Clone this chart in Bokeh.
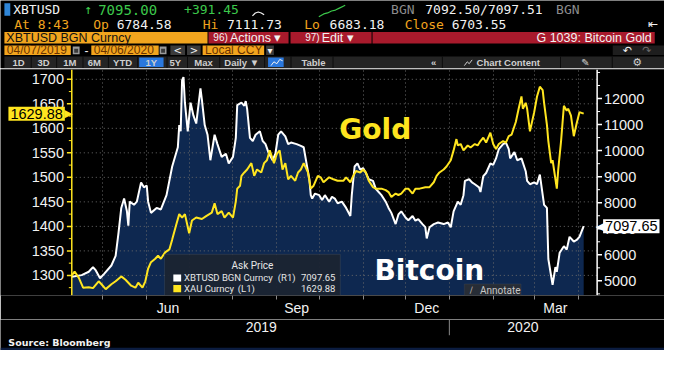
import pandas as pd
from bokeh.plotting import figure
from bokeh.models import (Range1d, LinearAxis, FixedTicker, Grid, Label, BoxAnnotation,
                          DatetimeTickFormatter, ColumnDataSource)
from bokeh.layouts import column
from bokeh.core.properties import value
from bokeh.embed import file_html
from bokeh.resources import INLINE

# ---------------------------------------------------------------- data
btc_dates = [
    "2019-04-09", "2019-04-16", "2019-04-21", "2019-04-24", "2019-04-26", "2019-04-29",
    "2019-05-02", "2019-05-07", "2019-05-10", "2019-05-12", "2019-05-14", "2019-05-16", "2019-05-18", "2019-05-19", "2019-05-20", "2019-05-23", "2019-05-25", "2019-05-28", "2019-05-30",
    "2019-06-01", "2019-06-02", "2019-06-04", "2019-06-08", "2019-06-11", "2019-06-15", "2019-06-19", "2019-06-23", "2019-06-24", "2019-06-25", "2019-06-26", "2019-06-27", "2019-06-28", "2019-06-30",
    "2019-07-02", "2019-07-04", "2019-07-06", "2019-07-09", "2019-07-10", "2019-07-12", "2019-07-14", "2019-07-16", "2019-07-19", "2019-07-21", "2019-07-24", "2019-07-27", "2019-07-29",
    "2019-08-01", "2019-08-03", "2019-08-04", "2019-08-07", "2019-08-09", "2019-08-10", "2019-08-11", "2019-08-13", "2019-08-15", "2019-08-17", "2019-08-20", "2019-08-22", "2019-08-24", "2019-08-26", "2019-08-29", "2019-08-31",
    "2019-09-02", "2019-09-04", "2019-09-07", "2019-09-09", "2019-09-11", "2019-09-15", "2019-09-18", "2019-09-20", "2019-09-22", "2019-09-24", "2019-09-25", "2019-09-26", "2019-09-28",
    "2019-10-01", "2019-10-03", "2019-10-05", "2019-10-08", "2019-10-10", "2019-10-12", "2019-10-14", "2019-10-17", "2019-10-20", "2019-10-23", "2019-10-24", "2019-10-26", "2019-10-28", "2019-10-30",
    "2019-11-01", "2019-11-03", "2019-11-05", "2019-11-08", "2019-11-10", "2019-11-12", "2019-11-14", "2019-11-17", "2019-11-19", "2019-11-21", "2019-11-24", "2019-11-26", "2019-11-28",
    "2019-12-01", "2019-12-03", "2019-12-06", "2019-12-08", "2019-12-10", "2019-12-13", "2019-12-15", "2019-12-16", "2019-12-18", "2019-12-21", "2019-12-24", "2019-12-28", "2019-12-31",
    "2020-01-02", "2020-01-04", "2020-01-07", "2020-01-09", "2020-01-11", "2020-01-12", "2020-01-15", "2020-01-17", "2020-01-19", "2020-01-22", "2020-01-23", "2020-01-25", "2020-01-27", "2020-01-30",
    "2020-02-01", "2020-02-03", "2020-02-05", "2020-02-08", "2020-02-10", "2020-02-12", "2020-02-13", "2020-02-16", "2020-02-18", "2020-02-21", "2020-02-24", "2020-02-25", "2020-02-27",
    "2020-03-01", "2020-03-03", "2020-03-05", "2020-03-08", "2020-03-10", "2020-03-11", "2020-03-14", "2020-03-16", "2020-03-17", "2020-03-19", "2020-03-22", "2020-03-24", "2020-03-26", "2020-03-29", "2020-03-31",
    "2020-04-02", "2020-04-05",
]
btc_prices = [
    5160, 5220, 5350, 5530, 5400, 5100,
    5280, 5590, 5960, 6820, 7800, 8160, 7670, 7120, 8040, 7920, 8040, 8780, 8590,
    8660, 8040, 7610, 7800, 7740, 8290, 9390, 10130, 10980, 10740, 12700, 12820, 11840, 10740,
    11840, 11350, 11040, 12390, 11960, 10980, 10610, 9630, 10610, 10250, 9760, 9880, 9510,
    9760, 10490, 11750, 11840, 11720, 11900, 11600, 10490, 10370, 10610, 10740, 10370, 10250, 9940, 9630, 9880,
    10610, 10740, 10550, 10250, 10310, 10250, 10180, 10130, 9510, 8900, 8290, 8160, 8350,
    8290, 8100, 8290, 8040, 8230, 8160, 7980, 8040, 7800, 7490, 8290, 9390, 9510, 9270,
    9330, 9140, 8900, 8840, 8530, 8410, 8290, 8040, 7800, 7610, 7180, 7550, 7670,
    7430, 7330, 7490, 7310, 7370, 7180, 7060, 6630, 7060, 7180, 7240, 7180, 7240,
    7060, 7670, 8040, 7920, 8290, 8840, 8900, 8780, 8710, 8590, 8410, 9020, 9140, 9510,
    9450, 9700, 10060, 10250, 10310, 10060, 9700, 9940, 9630, 9700, 9210, 8840, 8710,
    8780, 8710, 9080, 7920, 7800, 5840, 4850, 5530, 5350, 6080, 6330, 6200, 6690, 6510, 6570,
    6690, 7097.65,
]
gold_dates = [
    "2019-04-09", "2019-04-11", "2019-04-14", "2019-04-17", "2019-04-21", "2019-04-24", "2019-04-28", "2019-04-30",
    "2019-05-03", "2019-05-07", "2019-05-10", "2019-05-14", "2019-05-17", "2019-05-21", "2019-05-24", "2019-05-26", "2019-05-29", "2019-05-31",
    "2019-06-02", "2019-06-04", "2019-06-07", "2019-06-09", "2019-06-11", "2019-06-14", "2019-06-17", "2019-06-19", "2019-06-22", "2019-06-24", "2019-06-26", "2019-06-28",
    "2019-07-01", "2019-07-03", "2019-07-06", "2019-07-10", "2019-07-13", "2019-07-17", "2019-07-19", "2019-07-21", "2019-07-24", "2019-07-26", "2019-07-29",
    "2019-08-01", "2019-08-03", "2019-08-04", "2019-08-06", "2019-08-07", "2019-08-09", "2019-08-11", "2019-08-14", "2019-08-16", "2019-08-18", "2019-08-21", "2019-08-23", "2019-08-25", "2019-08-27", "2019-08-30",
    "2019-09-01", "2019-09-03", "2019-09-05", "2019-09-07", "2019-09-09", "2019-09-11", "2019-09-14", "2019-09-16", "2019-09-18", "2019-09-20", "2019-09-23", "2019-09-25", "2019-09-27", "2019-09-30",
    "2019-10-02", "2019-10-04", "2019-10-08", "2019-10-11", "2019-10-14", "2019-10-18", "2019-10-20", "2019-10-23", "2019-10-25", "2019-10-27", "2019-10-30",
    "2019-11-01", "2019-11-03", "2019-11-05", "2019-11-08", "2019-11-10", "2019-11-12", "2019-11-14", "2019-11-17", "2019-11-19", "2019-11-21", "2019-11-24", "2019-11-26", "2019-11-28",
    "2019-12-01", "2019-12-03", "2019-12-06", "2019-12-08", "2019-12-11", "2019-12-15", "2019-12-18", "2019-12-21", "2019-12-23", "2019-12-25", "2019-12-28", "2019-12-30",
    "2020-01-02", "2020-01-04", "2020-01-06", "2020-01-07", "2020-01-09", "2020-01-11", "2020-01-14", "2020-01-16", "2020-01-19", "2020-01-21", "2020-01-23", "2020-01-25", "2020-01-27", "2020-01-30",
    "2020-02-01", "2020-02-03", "2020-02-05", "2020-02-08", "2020-02-10", "2020-02-12", "2020-02-14", "2020-02-17", "2020-02-19", "2020-02-21", "2020-02-22", "2020-02-24", "2020-02-25", "2020-02-27",
    "2020-03-01", "2020-03-03", "2020-03-05", "2020-03-07", "2020-03-08", "2020-03-10", "2020-03-11", "2020-03-13", "2020-03-14", "2020-03-15", "2020-03-17", "2020-03-18", "2020-03-20", "2020-03-22", "2020-03-24", "2020-03-25", "2020-03-27", "2020-03-29", "2020-03-31",
    "2020-04-02", "2020-04-05",
]
gold_prices = [
    1300, 1308, 1295, 1275, 1276, 1274, 1288, 1282,
    1272, 1282, 1288, 1298, 1291, 1279, 1275, 1285, 1275, 1288,
    1314, 1327, 1334, 1340, 1334, 1347, 1353, 1373, 1405, 1425, 1418, 1425,
    1386, 1412, 1418, 1415, 1421, 1428, 1447, 1425, 1431, 1418, 1428,
    1418, 1451, 1477, 1483, 1503, 1510, 1516, 1529, 1503, 1516, 1510, 1529, 1535, 1555, 1529,
    1548, 1555, 1516, 1529, 1496, 1503, 1493, 1510, 1516, 1529, 1510, 1477, 1483, 1503,
    1500, 1490, 1500, 1496, 1493, 1493, 1500, 1490, 1503, 1513, 1510,
    1516, 1510, 1493, 1480, 1477, 1477, 1477, 1474, 1470, 1460, 1467, 1464, 1467,
    1477, 1477, 1467, 1477, 1477, 1480, 1480, 1490, 1503, 1510, 1516, 1522,
    1535, 1555, 1578, 1565, 1568, 1555, 1565, 1561, 1568, 1565, 1574, 1581, 1571, 1591,
    1568, 1558, 1568, 1574, 1571, 1584, 1587, 1613, 1640, 1665, 1640, 1652, 1640, 1594,
    1633, 1665, 1685, 1678, 1652, 1607, 1574, 1529, 1535, 1516, 1477, 1516, 1574, 1646, 1636, 1640, 1626, 1584, 1610,
    1633, 1629.88,
]
btc_last = 7097.65
gold_last = 1629.88
gold_ticks = [1300, 1350, 1400, 1450, 1500, 1550, 1600, 1650, 1700]
gold_minor_ticks = [1275, 1325, 1375, 1425, 1475, 1525, 1575, 1625, 1675]
btc_ticks = [5000, 6000, 7000, 8000, 9000, 10000, 11000, 12000]
btc_minor_ticks = [4500, 5500, 6500, 7500, 8500, 9500, 10500, 11500, 12500, 13000]
month_starts = ["2019-05-01", "2019-06-01", "2019-07-01", "2019-08-01", "2019-09-01", "2019-10-01",
                "2019-11-01", "2019-12-01", "2020-01-01", "2020-02-01", "2020-03-01", "2020-04-01"]
month_label_dates = ["2019-06-16", "2019-09-15", "2019-12-16", "2020-03-16"]   # Jun Sep Dec Mar
year_label_dates = ["2019-08-21", "2020-02-22"]                                 # 2019 2020
year_break = "2020-01-01"

X_START, X_END = "2019-04-09", "2020-04-14 12:00"
GOLD_RANGE = (1259, 1720)
BTC_RANGE = (4438, 13114)

# ---------------------------------------------------------------- style
W = 664
YEL = "#ffe51f"
NAVY = "#0e2850"
AMBER = "#f2a51e"
RED = "#a81a2c"
GREEN = "#3cc84b"
WHITE = "#f2f2f2"
GRAY = "#8c8c8c"
GRID = "#6a6a6a"
AXF = "Liberation Sans"


def ms(s):
    return pd.Timestamp(s).value / 1e6


def fmt(f):
    return DatetimeTickFormatter(microseconds=f, milliseconds=f, seconds=f, minsec=f, minutes=f,
                                 hourmin=f, hours=f, days=f, months=f, years=f)


def put(fig, x, y, s, color, size, font="DejaVu Sans Mono", style="normal", align="left"):
    fig.text(x=[x], y=[y], text=[s], text_color=color, text_font=value(font),
             text_font_size=value(size), text_font_style=style, text_align=align,
             text_baseline="middle")


def box(fig, l, r, t, b, color):
    fig.quad(left=[l], right=[r], top=[t], bottom=[b], fill_color=color, line_color=None)


def blank(h, xr, y0, y1):
    return figure(width=W, height=h, x_range=xr, y_range=Range1d(y1, y0),
                  output_backend="svg", toolbar_location=None, x_axis_type=None, y_axis_type=None,
                  min_border=0, background_fill_color="black", border_fill_color="black",
                  outline_line_color=None)


# ---------------------------------------------------------------- header
head = blank(68, Range1d(0, 680), 0, 71)
box(head, 4, 10, 3, 16, "#2f86d8")
row1 = [(13, "XBTUSD", WHITE, "13px"), (86, "\u2191", GREEN, "13px"), (100, "7095.00", GREEN, "14px"),
        (188, "+391.45", GREEN, "13px"), (400, "BGN", GRAY, "13px"),
        (435, "7092.50/7097.51", WHITE, "13px"), (569, "BGN", GRAY, "13px")]
for x, s, c, fs in row1:
    put(head, x, 9.5, s, c, fs)
head.line([258, 261, 264, 267, 270], [16, 13, 12, 13, 15], color=WHITE, line_width=1.2)
head.line([326, 331, 335, 339, 343, 347, 351, 353], [17, 14, 13, 11, 10, 8, 6, 5], color=GREEN, line_width=1.2)
row2 = [(14, "At 8:43", AMBER), (95, "Op", AMBER), (119, "6784.58", WHITE), (207, "Hi", AMBER),
        (232, "7111.73", WHITE), (311, "Lo", AMBER), (337, "6683.18", WHITE),
        (414, "Close", AMBER), (462, "6703.55", WHITE)]
for x, s, c in row2:
    put(head, x, 25, s, c, "13px")
put(head, 668, 25, "\u21e4", WHITE, "12px", font="DejaVu Sans", align="center")

box(head, 4, 212, 33, 45, AMBER)
put(head, 6, 39, "XBTUSD BGN Curncy", "#111111", "12.5px", font=AXF)
box(head, 213, 295, 33, 45, RED)
box(head, 297, 380, 33, 45, RED)
box(head, 381, 670, 33, 45, RED)
put(head, 218, 39, "96)", WHITE, "10px", font=AXF)
put(head, 235, 39, "Actions \u25be", WHITE, "12.5px", font=AXF)
put(head, 312, 39, "97)", WHITE, "10px", font=AXF)
put(head, 329, 39, "Edit \u25be", WHITE, "12.5px", font=AXF)
put(head, 667, 39, "G 1039: Bitcoin Gold", WHITE, "12.5px", font=AXF, align="right")

for l, r, s in [(4, 72, "04/07/2019"), (93, 162, "04/06/2020"), (207, 270, "Local CCY")]:
    box(head, l, r, 47, 57, AMBER)
    put(head, l + 2.5, 52, s, "#6a3300", "12px", font=AXF)
for l, r in [(74, 81), (163, 170)]:
    box(head, l, r, 48, 56, "#9a9a9a")
    box(head, l + 1.5, r - 1.5, 50.5, 54.5, "#3a3a3a")
put(head, 86, 52, "-", WHITE, "12px", font=AXF)
for l, r, s in [(174, 189, "<"), (191, 205, ">"), (272, 280, "\u25be")]:
    box(head, l, r, 47, 57, "#3b3b3b")
    put(head, (l + r) / 2, 52, s, WHITE, "10px", font="DejaVu Sans", align="center")
box(head, 627, 680, 47, 57, "#1e1e1e")
put(head, 642, 52, "\u21b6", WHITE, "11px", font="DejaVu Sans", align="center")
put(head, 662, 52, "\u21b7", "#6a6a6a", "11px", font="DejaVu Sans", align="center")

box(head, 4, 680, 58.5, 70.5, "#242424")
for sx in [31, 57, 84, 110, 140, 170, 191, 224, 270, 297, 340, 452, 573, 626]:
    box(head, sx, sx + 1, 58.5, 70.5, "#0c0c0c")
box(head, 142, 167, 59.5, 69.5, "#2a78de")
box(head, 274, 290, 59.5, 69.5, "#2a78de")
head.line([277, 280, 283, 286, 289], [68, 64, 66, 61.5, 63], color=WHITE, line_width=1)
tool_labels = [(18.5, "1D"), (44, "3D"), (71, "1M"), (96, "6M"), (125, "YTD"), (154.5, "1Y"),
               (179, "5Y"), (208, "Max"), (247, "Daily \u25bc"), (320.5, "Table"),
               (443.5, "\u00ab"), (520, "Chart Content")]
for x, s in tool_labels:
    put(head, x, 64.5, s, "#cfcfcf", "9.5px", font=AXF, style="bold", align="center")
head.line([475, 478, 480, 483], [68, 64, 66, 62], color="#cfcfcf", line_width=1)
put(head, 599, 64.5, "\u270e", "#cfcfcf", "10px", font="DejaVu Sans", align="center")
put(head, 652, 64.5, "\u2699", "#cfcfcf", "11px", font="DejaVu Sans", align="center")

# ---------------------------------------------------------------- chart
x0, x1 = ms(X_START), ms(X_END)
PL, PR, PT, PB = 73, 611, 72, 308   # reference px of the plot area edges


def at_x(px):
    return x0 + (px - PL) / (PR - PL) * (x1 - x0)


def at_gold(py):
    return GOLD_RANGE[1] - (py - PT) / (PB - PT) * (GOLD_RANGE[1] - GOLD_RANGE[0])


chart = figure(width=W, height=251, output_backend="svg", toolbar_location=None,
               x_axis_type=None, y_axis_type=None,
               x_range=Range1d(at_x(0), at_x(680)), y_range=Range1d(*GOLD_RANGE),
               min_border_left=0, min_border_right=0, min_border_top=1, min_border_bottom=24,
               background_fill_color="black", border_fill_color="black", outline_line_color=None)
chart.extra_y_ranges = {"btc": Range1d(*BTC_RANGE)}

btc_src = ColumnDataSource(dict(x=pd.to_datetime(btc_dates), y=btc_prices))
gold_src = ColumnDataSource(dict(x=pd.to_datetime(gold_dates), y=gold_prices))

chart.varea(x="x", y1=BTC_RANGE[0], y2="y", source=btc_src, y_range_name="btc",
            fill_color=NAVY, level="image")
chart.add_layout(Grid(dimension=0, ticker=FixedTicker(ticks=[ms(d) for d in month_starts]),
                      grid_line_color=GRID, grid_line_dash="1 3", level="underlay"))
n = len(gold_ticks)
chart.segment(x0=[at_x(PL)] * n, x1=[at_x(PR)] * n, y0=gold_ticks, y1=gold_ticks,
              line_color=GRID, line_dash="1 3", level="underlay")
chart.line(x="x", y="y", source=btc_src, y_range_name="btc", color="white", line_width=2)
chart.line(x="x", y="y", source=gold_src, color=YEL, line_width=2)

# left (gold) scale
chart.segment(x0=[at_x(PL)], x1=[at_x(PL)], y0=[GOLD_RANGE[0]], y1=[GOLD_RANGE[1]], line_color=YEL, line_width=1.5)
chart.segment(x0=[at_x(PL - 5)] * n, x1=[at_x(PL)] * n, y0=gold_ticks, y1=gold_ticks, line_color=YEL, line_width=1.5)
m = len(gold_minor_ticks)
chart.segment(x0=[at_x(PL - 3)] * m, x1=[at_x(PL)] * m, y0=gold_minor_ticks, y1=gold_minor_ticks, line_color=YEL)
chart.text(x=[at_x(PL - 8)] * n, y=gold_ticks, text=[str(t) for t in gold_ticks], text_color=WHITE,
           text_font=value(AXF), text_font_size=value("14.5px"), text_align="right", text_baseline="middle")

# right (bitcoin) scale
k = len(btc_ticks)
chart.segment(x0=[at_x(PR)], x1=[at_x(PR)], y0=[BTC_RANGE[0]], y1=[BTC_RANGE[1]], y_range_name="btc",
              line_color="white", line_width=1.5)
chart.segment(x0=[at_x(PR)] * k, x1=[at_x(PR + 5)] * k, y0=btc_ticks, y1=btc_ticks, y_range_name="btc",
              line_color="white", line_width=1.5)
j = len(btc_minor_ticks)
chart.segment(x0=[at_x(PR)] * j, x1=[at_x(PR + 3)] * j, y0=btc_minor_ticks, y1=btc_minor_ticks,
              y_range_name="btc", line_color="white")
chart.text(x=[at_x(PR + 7)] * k, y=btc_ticks, text=[str(t) for t in btc_ticks], y_range_name="btc",
           text_color=WHITE, text_font=value(AXF), text_font_size=value("14.5px"), text_align="left",
           text_baseline="middle")

# month axis (real Bokeh axis below the frame)
months = LinearAxis(ticker=FixedTicker(ticks=[ms(d) for d in month_label_dates],
                                       minor_ticks=[ms(d) for d in month_starts]),
                    formatter=fmt("%b"), bounds=(x0, x1), axis_line_color="#4a4a4a",
                    major_tick_line_color=None, major_tick_out=0, major_tick_in=0,
                    minor_tick_line_color="#8a8a8a", minor_tick_out=4, minor_tick_in=0,
                    major_label_text_color=WHITE, major_label_text_font=AXF,
                    major_label_text_font_size="14px", major_label_standoff=0)
chart.add_layout(months, "below")

# big captions
chart.add_layout(Label(x=at_x(347), y=at_gold(135), text="Gold", text_color=YEL,
                       text_font="DejaVu Sans", text_font_style="bold", text_font_size="28px",
                       text_baseline="alphabetic"))
chart.add_layout(Label(x=at_x(383), y=at_gold(282), text="Bitcoin", text_color="white",
                       text_font="DejaVu Sans", text_font_style="bold", text_font_size="28px",
                       text_baseline="alphabetic"))

# legend panel
chart.add_layout(BoxAnnotation(left=at_x(168), right=at_x(348), top=at_gold(265), bottom=GOLD_RANGE[0],
                               fill_color="#1b2431", fill_alpha=0.95, line_color="#56606b", line_width=1))
LF = "Roboto"
LFS = "9.5px"
chart.add_layout(Label(x=at_x(258), y=at_gold(277), text="Ask Price", text_color="#e6e6e6",
                       text_font=LF, text_font_size="10px", text_align="center", text_baseline="middle"))
chart.add_layout(BoxAnnotation(left=at_x(177), right=at_x(185), top=at_gold(286), bottom=at_gold(293.5),
                               fill_color="white", fill_alpha=1, line_color=None))
chart.add_layout(BoxAnnotation(left=at_x(177), right=at_x(185), top=at_gold(297), bottom=at_gold(304.5),
                               fill_color=YEL, fill_alpha=1, line_color=None))
legend_rows = [(289.7, "XBTUSD BGN Curncy", 284, "(R1)", "7097.65"),
               (301, "XAU Curncy", 243, "(L1)", "1629.88")]
for yy, name, sx, side, val in legend_rows:
    for xx, s, al in [(188, name, "left"), (sx, side, "left"), (343, val, "right")]:
        chart.add_layout(Label(x=at_x(xx), y=at_gold(yy), text=s, text_color="#e6e6e6", text_font=LF,
                               text_font_size=LFS, text_align=al, text_baseline="middle"))

# annotate button
chart.add_layout(BoxAnnotation(left=at_x(475), right=at_x(533), top=at_gold(296), bottom=GOLD_RANGE[0],
                               fill_color="#272d36", fill_alpha=1, line_color="#4b525c"))
chart.add_layout(Label(x=at_x(482), y=at_gold(302.5), text="\u2215", text_color="#b0b0b0",
                       text_font="DejaVu Sans", text_font_size="9px", text_align="center",
                       text_baseline="middle"))
chart.add_layout(Label(x=at_x(491), y=at_gold(302.5), text="Annotate", text_color="#c8c8c8",
                       text_font=LF, text_font_size="10px", text_baseline="middle"))

# last-value tags
chart.add_layout(Label(x=at_x(37), y=gold_last, text=f"{gold_last:.2f}", text_color="black",
                       background_fill_color=YEL, padding=2, text_font=AXF,
                       text_font_size="14.5px", text_align="center", text_baseline="middle"))
chart.add_layout(Label(x=at_x(69.5), y=gold_last, text="\u25b6", text_color=YEL,
                       text_font="DejaVu Sans", text_font_size="11px", text_align="center",
                       text_baseline="middle"))
chart.add_layout(Label(x=at_x(646), y=btc_last, y_range_name="btc", text=f"{btc_last:.2f}",
                       text_color="black", background_fill_color="white", padding=2,
                       text_font=AXF, text_font_size="14.5px", text_align="center",
                       text_baseline="middle"))
chart.add_layout(Label(x=at_x(614), y=btc_last, y_range_name="btc", text="\u25c0", text_color="white",
                       text_font="DejaVu Sans", text_font_size="11px", text_align="center",
                       text_baseline="middle"))

# ---------------------------------------------------------------- footer (year row + source)
foot = blank(31, Range1d(at_x(0), at_x(680)), 333.5, 366)
foot.text(x=[ms(d) for d in year_label_dates], y=[341.5] * len(year_label_dates),
          text=[str(pd.Timestamp(d).year) for d in year_label_dates], text_color=WHITE,
          text_font=value(AXF), text_font_size=value("14px"), text_align="center", text_baseline="middle")
foot.segment(x0=[ms(year_break)], x1=[ms(year_break)], y0=[333.5], y1=[350], line_color="#8a8a8a")
foot.text(x=[at_x(8)], y=[357.5], text=["Source: Bloomberg"], text_color=WHITE,
          text_font=value("DejaVu Sans"), text_font_size=value("9.5px"), text_font_style="bold",
          text_align="left", text_baseline="middle")
foot.quad(left=[at_x(0)], right=[at_x(680)], top=[363], bottom=[366], fill_color="#0b1c40", line_color=None)

layout = column(head, chart, foot, spacing=0)
open("out.html", "w").write(file_html(layout, INLINE))
